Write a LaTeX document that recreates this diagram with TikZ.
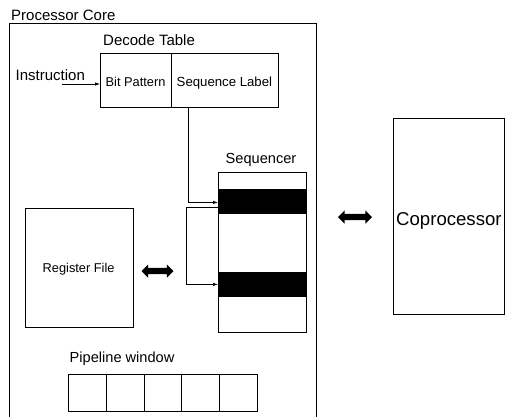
\documentclass[tikz,border=0pt]{standalone}
\usepackage{fontspec}
\setmainfont{Liberation Sans}
\usetikzlibrary{arrows.meta,shapes.arrows}
\newcommand{\fs}[1]{\fontsize{#1}{#1}\selectfont}
\begin{document}
\begin{tikzpicture}[x=1pt,y=-1pt,
  box/.style={draw,line width=0.8pt,inner sep=0pt,anchor=north west},
  lbl/.style={inner sep=0pt,anchor=base west},
  conn/.style={line width=0.7pt,-{Latex[length=5pt,width=3.5pt]}},
  dbl/.style={draw=none,fill=black,double arrow,double arrow head extend=3.5pt,minimum height=#1,inner xsep=0pt,inner ysep=3pt}
]
\useasboundingbox (0,0) rectangle (505,416);
% Processor core outline
\coordinate (pcbl) at (9,417);
\coordinate (pcbr) at (316,417);
\draw[line width=0.8pt] (pcbl) |- (316,23) -- (pcbr);
\node[lbl,font=\fs{15}] (pctitle) at (11,20) {Processor Core};
% Decode table
\node[lbl,font=\fs{15}] (dttitle) at (103,45) {Decode Table};
\node[box,minimum width=71pt,minimum height=54pt] (bit) at (100,53) {};
\node[box,minimum width=107pt,minimum height=54pt] (seql) at (171,53) {};
\node[lbl,font=\fs{12.8}] at (105.5,86) {Bit Pattern};
\node[lbl,font=\fs{13.2}] at (176.5,86) {Sequence Label};
\node[lbl,font=\fs{15}] (instr) at (15.5,80) {Instruction};
\coordinate (instart) at (62,84);
\draw[conn] (instart) -- (bit.west |- instart);
% Sequencer
\node[lbl,font=\fs{14.6}] (seqtitle) at (225.5,163) {Sequencer};
\node[box,minimum width=88pt,minimum height=160pt] (seq) at (218,172) {};
\node[box,fill=black,minimum width=88pt,minimum height=24pt] (band1) at (218,189) {};
\node[box,fill=black,minimum width=88pt,minimum height=24pt] (band2) at (218,272) {};
\draw[conn] ([xshift=17pt]seql.south west) |- ([yshift=-1pt]band1.west);
\draw[conn] ([yshift=-6pt]band1.west) -- ++(-32,0) |- (band2.west);
% Register file
\node[box,minimum width=108pt,minimum height=119pt] (reg) at (25,208) {};
\node[lbl,font=\fs{12.8}] at (42.5,272) {Register File};
\node[dbl=32pt] (arr1) at (157.5,271) {};
% Coprocessor
\node[box,minimum width=111pt,minimum height=196pt] (cop) at (393,118) {};
\node[lbl,font=\fs{18.6}] (coptext) at (396,225) {Coprocessor};
\node[dbl=34pt] (arr2) at (355,217) {};
% Pipeline window
\node[lbl,font=\fs{14.6}] (pwtitle) at (69.5,362) {Pipeline window};
\foreach \i in {0,...,4} {
  \node[box,minimum width=37.8pt,minimum height=37pt] (pw\i) at (68+37.8*\i,374) {};
}
\end{tikzpicture}
\end{document}
